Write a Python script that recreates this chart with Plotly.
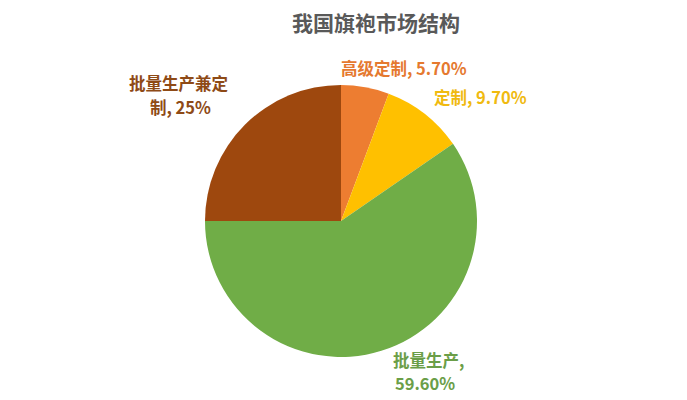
import plotly.graph_objects as go

categories = ["高级定制", "定制", "批量生产", "批量生产兼定制"]
values = [5.7, 9.7, 59.6, 25.0]
value_labels = ["5.70%", "9.70%", "59.60%", "25%"]
slice_colors = ["#ED7D31", "#FFC000", "#70AD47", "#9E480E"]
label_colors = ["#E5792F", "#F0BA10", "#6B9E48", "#8E4A16"]
# each label as lines: (text, x, y) in reference pixels
label_lines = [
    [("高级定制, 5.70%", 404, 68)],
    [("定制, 9.70%", 480, 97)],
    [("批量生产,", 428, 360), ("59.60%", 425, 383)],
    [("批量生产兼定", 178, 83), ("制, 25%", 180, 107)],
]

W, H = 687, 400
off = 8  # page offset of the rendered figure
cx, cy, r = 341 - off, 221 - off, 136

fig = go.Figure(go.Pie(
    labels=categories,
    values=values,
    sort=False,
    direction="clockwise",
    rotation=0,
    marker=dict(colors=slice_colors, line=dict(width=0)),
    textinfo="none",
    hoverinfo="label+percent",
    showlegend=False,
    domain=dict(x=[(cx - r) / W, (cx + r) / W], y=[1 - (cy + r) / H, 1 - (cy - r) / H]),
))

annotations = [dict(
    text="<b>我国旗袍市场结构</b>", x=(376 - off) / W, y=1 - (22 - off) / H, xref="paper", yref="paper",
    showarrow=False, font=dict(size=21, color="#595959", family="Noto Sans CJK SC"),
    xanchor="center", yanchor="middle")]
for lines, c in zip(label_lines, label_colors):
    for t, x, y in lines:
        annotations.append(dict(
            text="<b>" + t + "</b>", x=(x - off) / W, y=1 - (y - off) / H, xref="paper", yref="paper",
            showarrow=False, font=dict(size=16.5, color=c, family="Noto Sans CJK SC"),
            xanchor="center", yanchor="middle", align="center"))

fig.update_layout(
    width=W, height=H,
    margin=dict(l=0, r=0, t=0, b=0),
    paper_bgcolor="white", plot_bgcolor="white",
    annotations=annotations,
)
fig.write_html("out.html")
